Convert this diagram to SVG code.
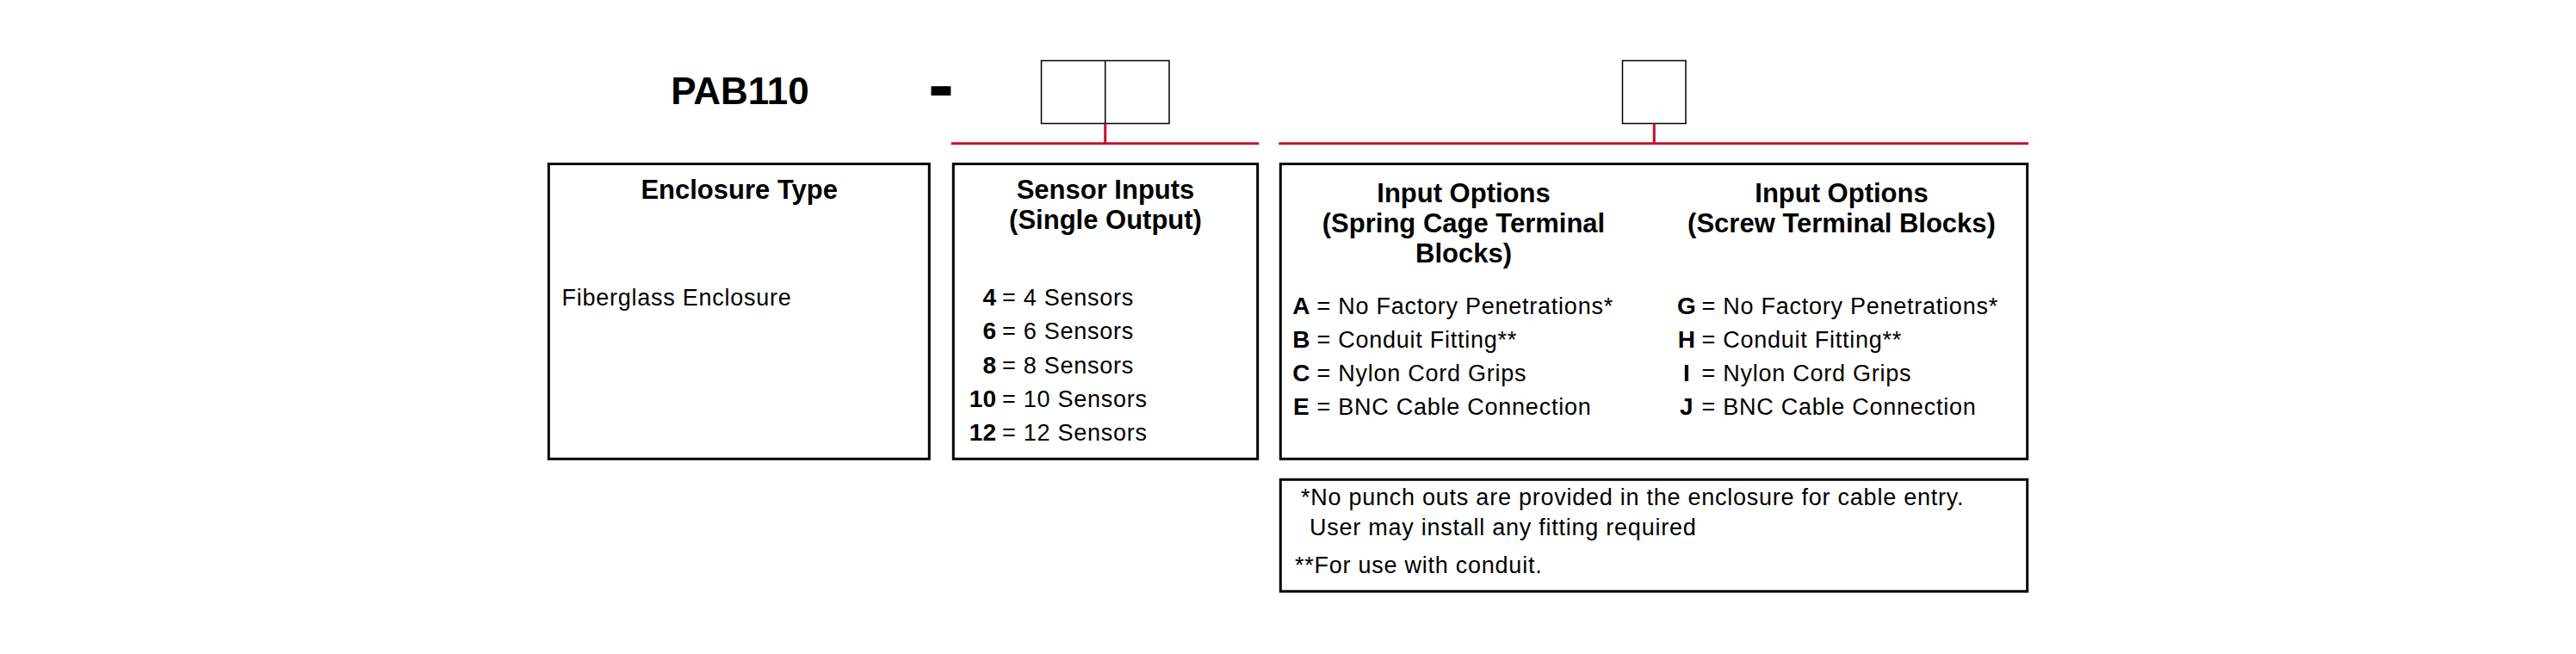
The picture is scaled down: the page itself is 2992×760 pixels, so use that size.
<svg xmlns="http://www.w3.org/2000/svg" width="2992" height="760" viewBox="0 0 2992 760">
<style>
.box{fill:none;stroke:#000;stroke-width:3}
.slot{fill:#fff;stroke:#000;stroke-width:1.5}
.conn{stroke:#C8102E;stroke-width:3;fill:none}
text{font-family:"Liberation Sans",Arial,Helvetica,sans-serif;fill:#000}
.t{font-size:27px;letter-spacing:0.75px}
.b{font-size:28px;font-weight:bold}
.h{font-size:31px;font-weight:bold;text-anchor:middle}
.e{text-anchor:end}
.m{text-anchor:middle}
</style>
<rect width="2992" height="760" fill="#fff"/>

<g id="code">
<text x="859.5" y="121" font-size="44" font-weight="bold" text-anchor="middle">PAB110</text>
<text x="1078" y="128.5" font-size="90" font-weight="bold">-</text>
</g>

<g id="slot-sensors">
<rect class="slot" x="1209.5" y="70.5" width="148.5" height="73"/>
<line x1="1283.7" y1="70.5" x2="1283.7" y2="143.5" stroke="#000" stroke-width="1.5"/>
</g>

<g id="slot-options">
<rect class="slot" x="1884.5" y="70.5" width="73.5" height="73"/>
</g>

<g id="connectors">
<line class="conn" x1="1104.7" y1="166.8" x2="1462.3" y2="166.8"/>
<line class="conn" x1="1283.7" y1="143.5" x2="1283.7" y2="166.8" stroke-width="2.5"/>
<line class="conn" x1="1485.3" y1="166.8" x2="2356" y2="166.8"/>
<line class="conn" x1="1921.3" y1="143.5" x2="1921.3" y2="166.8" stroke-width="2.5"/>
</g>

<g id="enclosure-type">
<rect class="box" x="637.3" y="190.5" width="442" height="342.8"/>
<text class="h" x="858.7" y="231">Enclosure Type</text>
<text class="t" x="652.5" y="355">Fiberglass Enclosure</text>
</g>

<g id="sensor-inputs">
<rect class="box" x="1107.3" y="190.5" width="353.4" height="342.8"/>
<text class="h" x="1284" y="230.5">Sensor Inputs</text>
<text class="h" x="1284" y="265.5">(Single Output)</text>
<text class="b e" x="1157" y="355">4</text>
<text class="t" x="1164" y="355">= 4 Sensors</text>
<text class="b e" x="1157" y="394">6</text>
<text class="t" x="1164" y="394">= 6 Sensors</text>
<text class="b e" x="1157" y="433.5">8</text>
<text class="t" x="1164" y="433.5">= 8 Sensors</text>
<text class="b e" x="1157" y="473">10</text>
<text class="t" x="1164" y="473">= 10 Sensors</text>
<text class="b e" x="1157" y="512">12</text>
<text class="t" x="1164" y="512">= 12 Sensors</text>
</g>

<g id="input-options">
<rect class="box" x="1487.3" y="190.5" width="867.4" height="342.8"/>
<text class="h" x="1700" y="234.5">Input Options</text>
<text class="h" x="1700" y="270">(Spring Cage Terminal</text>
<text class="h" x="1700" y="305">Blocks)</text>
<text class="h" x="2139" y="234.5">Input Options</text>
<text class="h" x="2139" y="270">(Screw Terminal Blocks)</text>
<text class="b m" x="1511.4" y="365">A</text>
<text class="t" x="1529.5" y="365">= No Factory Penetrations*</text>
<text class="b m" x="1511.4" y="404">B</text>
<text class="t" x="1529.5" y="404">= Conduit Fitting**</text>
<text class="b m" x="1511.4" y="443">C</text>
<text class="t" x="1529.5" y="443">= Nylon Cord Grips</text>
<text class="b m" x="1511.4" y="482">E</text>
<text class="t" x="1529.5" y="482">= BNC Cable Connection</text>
<text class="b m" x="1958.8" y="365">G</text>
<text class="t" x="1976.5" y="365">= No Factory Penetrations*</text>
<text class="b m" x="1958.8" y="404">H</text>
<text class="t" x="1976.5" y="404">= Conduit Fitting**</text>
<text class="b m" x="1958.8" y="443">I</text>
<text class="t" x="1976.5" y="443">= Nylon Cord Grips</text>
<text class="b m" x="1958.8" y="482">J</text>
<text class="t" x="1976.5" y="482">= BNC Cable Connection</text>
</g>

<g id="notes">
<rect class="box" x="1487.3" y="557.3" width="867.4" height="129.9"/>
<text class="t" x="1511" y="587.3">*No punch outs are provided in the enclosure for cable entry.</text>
<text class="t" x="1521" y="621.7">User may install any fitting required</text>
<text class="t" x="1504" y="666">**For use with conduit.</text>
</g>
</svg>
